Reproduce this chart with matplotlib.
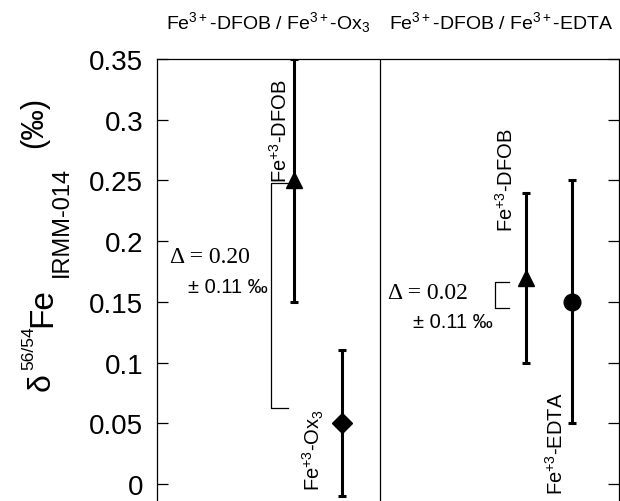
import numpy as np
import matplotlib
matplotlib.use("Agg")
import matplotlib.pyplot as plt

plt.rcParams['font.family'] = ['Liberation Sans', 'DejaVu Sans']
plt.rcParams['mathtext.fontset'] = 'custom'
plt.rcParams['mathtext.rm'] = 'Liberation Sans'
plt.rcParams['mathtext.it'] = 'Liberation Sans:italic'
plt.rcParams['mathtext.sf'] = 'Liberation Sans'

# datos
muestras = ['Fe$^{+3}$-DFOB', 'Fe$^{+3}$-Ox$_3$', 'Fe$^{+3}$-DFOB', 'Fe$^{+3}$-EDTA']
delta = [0.25, 0.05, 0.17, 0.15]
error = [0.10, 0.06, 0.07, 0.10]
marcadores = ['^', 'D', '^', 'o']
xpos = [0.297, 0.400, 0.799, 0.898]

paneles = ['Fe$^{3+}$-DFOB / Fe$^{3+}$-Ox$_3$', 'Fe$^{3+}$-DFOB / Fe$^{3+}$-EDTA']
diferencias = ['\u0394 = 0.20', '\u0394 = 0.02']
incertidumbre = '\u00b1 0.11 \u2030'
corchetes = [(0.248, 0.063), (0.166, 0.145)]

fig = plt.figure(figsize=(6.2, 5.02), dpi=100)
ax = fig.add_axes([157/620, 0, 462/620, 442/502])
ax.set_xlim(0, 1)
ax.set_ylim(-0.014, 0.35)

for x, y, e, m in zip(xpos, delta, error, marcadores):
    ax.errorbar(x, y, yerr=e, fmt=m, color='black', ecolor='black',
                elinewidth=2.2, capsize=3, capthick=2.2,
                markersize=12 if m != 'D' else 10)

# divisor entre paneles
ax.axvline(0.483, color='black', lw=0.9)

# corchetes
bx = [(0.246, 0.283), (0.732, 0.762)]
for (x0, x1), (ya, yb) in zip(bx, corchetes):
    ax.plot([x1, x0, x0, x1], [ya, ya, yb, yb], color='black', lw=0.9)

# etiquetas de muestras
ax.text(0.265, 0.249, muestras[0], rotation=90, ha='center', va='bottom', fontsize=14.5)
ax.text(0.339, -0.005, muestras[1], rotation=90, ha='center', va='bottom', fontsize=14.5)
ax.text(0.756, 0.208, muestras[2], rotation=90, ha='center', va='bottom', fontsize=14.5)
ax.text(0.863, -0.008, muestras[3], rotation=90, ha='center', va='bottom', fontsize=14.5)

# diferencias
ax.text(0.028, 0.187, diferencias[0], family='Liberation Serif', fontsize=17, va='center')
ax.text(0.067, 0.163, incertidumbre, fontsize=14.5, va='center')
ax.text(0.500, 0.158, diferencias[1], family='Liberation Serif', fontsize=17, va='center')
ax.text(0.554, 0.134, incertidumbre, fontsize=14.5, va='center')

# titulos de panel
ax.text(0.241, 0.381, paneles[0], ha='center', va='center', fontsize=14, clip_on=False)
ax.text(0.745, 0.381, paneles[1], ha='center', va='center', fontsize=14, clip_on=False)

ax.set_yticks(np.arange(0, 0.36, 0.05))
ax.set_yticklabels(['0', '0.05', '0.1', '0.15', '0.2', '0.25', '0.3', '0.35'])
ax.tick_params(axis='y', direction='in', length=8, width=0.9, labelsize=20,
               right=True, pad=10)
ax.set_xticks([])
ax.spines['bottom'].set_visible(False)
for s in ['left', 'right', 'top']:
    ax.spines[s].set_linewidth(0.9)

# etiqueta del eje y armada por partes (texto, tamano, x linea base, y inicio en px)
partes = [('\u03b4', 23, 50, 391), ('56/54', 12.5, 33, 370), ('Fe', 24, 51, 327),
          ('IRMM-014', 17, 68, 277), ('(\u2030)', 22, 42, 148)]
for txt, fs, xb, y0 in partes:
    fig.text(xb / 100, (502 - y0) / 100, txt, fontsize=fs, rotation=90,
             rotation_mode='anchor', ha='left', va='baseline',
             transform=fig.dpi_scale_trans)

fig.savefig('out.png', dpi=100)
